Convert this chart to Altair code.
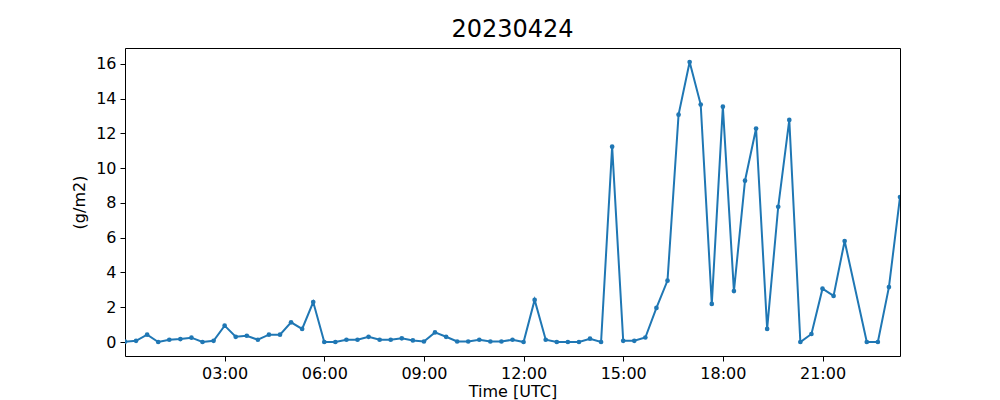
import altair as alt
import pandas as pd

title_text = "20230424"

times = [
    "00:00", "00:20", "00:40", "01:00", "01:20", "01:40", "02:00", "02:20", "02:40",
    "03:00", "03:20", "03:40", "04:00", "04:20", "04:40", "05:00", "05:20", "05:40",
    "06:00", "06:20", "06:40", "07:00", "07:20", "07:40", "08:00", "08:20", "08:40",
    "09:00", "09:20", "09:40", "10:00", "10:20", "10:40", "11:00", "11:20", "11:40",
    "12:00", "12:20", "12:40", "13:00", "13:20", "13:40", "14:00", "14:20", "14:40",
    "15:00", "15:20", "15:40", "16:00", "16:20", "16:40", "17:00", "17:20", "17:40",
    "18:00", "18:20", "18:40", "19:00", "19:20", "19:40", "20:00", "20:20", "20:40",
    "21:00", "21:20", "21:40", "22:20", "22:40", "23:00", "23:20",
]

values = [
    0.02, 0.07, 0.42, 0.0, 0.13, 0.17, 0.25, 0.0, 0.07,
    0.94, 0.30, 0.36, 0.13, 0.42, 0.42, 1.13, 0.75, 2.30,
    0.0, 0.0, 0.13, 0.13, 0.30, 0.13, 0.13, 0.21, 0.09,
    0.03, 0.55, 0.30, 0.03, 0.03, 0.13, 0.03, 0.03, 0.13,
    0.0, 2.42, 0.13, 0.0, 0.0, 0.0, 0.19, 0.0, 11.24,
    0.07, 0.07, 0.26, 1.96, 3.53, 13.08, 16.11, 13.66, 2.19,
    13.54, 2.93, 9.28, 12.28, 0.75, 7.78, 12.78, 0.0, 0.46,
    3.07, 2.65, 5.81, 0.0, 0.0, 3.16, 8.34,
]

x_tick_hours = [3, 6, 9, 12, 15, 18, 21]
y_ticks = [0, 2, 4, 6, 8, 10, 12, 14, 16]

df = pd.DataFrame({"time": times, "value": values})
df["hours"] = df["time"].apply(lambda s: int(s[:2]) + int(s[3:]) / 60.0)

hmin, hmax = df["hours"].min(), df["hours"].max()
vmin, vmax = df["value"].min(), df["value"].max()
margin = 0.05 * (vmax - vmin)

color = "#1f77b4"
font = "DejaVu Sans"

x_scale = alt.Scale(domain=[hmin, hmax], nice=False, zero=False)
y_scale = alt.Scale(domain=[vmin - margin, vmax + margin], nice=False, zero=False)

common_axis = dict(
    grid=False,
    domain=True,
    domainColor="black",
    domainWidth=1,
    tickColor="black",
    tickSize=5,
    tickWidth=1,
    labelPadding=4,
    labelFontSize=16,
    labelFont=font,
    labelColor="black",
    titleFontSize=16,
    titleFont=font,
    titleFontWeight="normal",
    titleColor="black",
)

frame_axis = dict(
    grid=False, domain=True, domainColor="black", domainWidth=1,
    ticks=False, labels=False, title=None,
)

line = alt.Chart(df).mark_line(color=color, strokeWidth=2, clip=True).encode(
    x=alt.X(
        "hours:Q",
        scale=x_scale,
        axis=alt.Axis(
            values=x_tick_hours,
            labelExpr="(datum.value < 10 ? '0' : '') + datum.value + ':00'",
            title="Time [UTC]",
            titlePadding=2,
            **common_axis,
        ),
    ),
    y=alt.Y(
        "value:Q",
        scale=y_scale,
        axis=alt.Axis(values=y_ticks, title="(g/m2)", titlePadding=8, **common_axis),
    ),
)

pts = alt.Chart(df).mark_circle(color=color, size=22, opacity=1, clip=True).encode(
    x=alt.X("hours:Q", scale=x_scale, axis=alt.Axis(orient="top", **frame_axis)),
    y=alt.Y("value:Q", scale=y_scale, axis=alt.Axis(orient="right", **frame_axis)),
)

chart = (
    alt.layer(line, pts)
    .resolve_axis(x="independent", y="independent")
    .properties(
        width=775,
        height=308,
        title=alt.TitleParams(
            title_text, fontSize=24, font=font, fontWeight="normal", color="black", offset=6
        ),
        autosize=alt.AutoSizeParams(type="none"),
        padding={"left": 117, "top": 40, "right": 92, "bottom": 46},
    )
    .configure_view(stroke=None)
    .configure(background="white")
)

chart.save("out.html", embed_options={"renderer": "svg", "actions": False})
